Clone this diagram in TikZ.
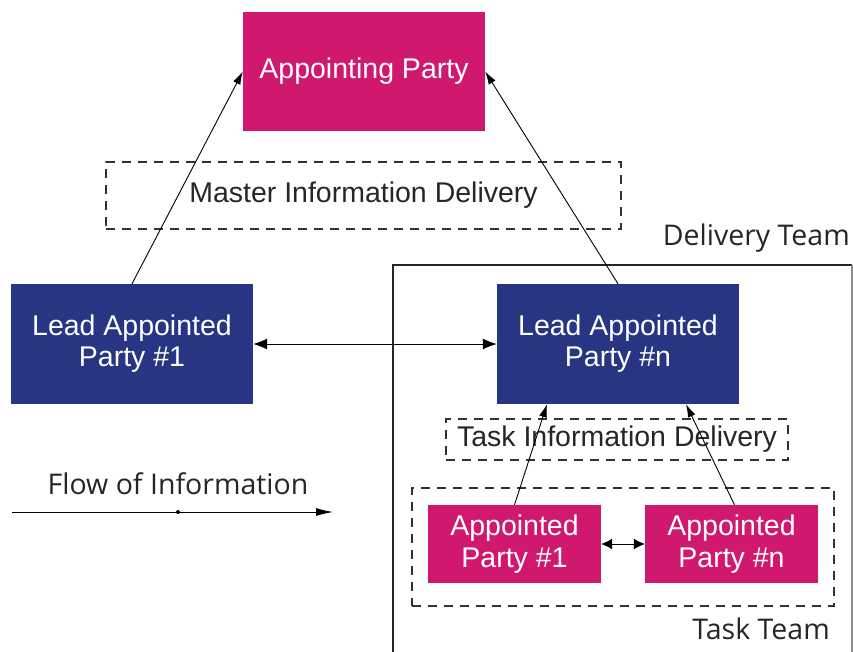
\documentclass[tikz,border=0pt]{standalone}
\usepackage{fontspec}
\setmainfont{Liberation Sans}
\newfontfamily\labelfont{Open Sans}
\usetikzlibrary{arrows.meta}
\definecolor{partymagenta}{HTML}{D0196E}
\definecolor{partynavy}{HTML}{283583}
\tikzset{
 party/.style={shape=rectangle,fill=partymagenta,text=white,align=center,inner sep=0pt,font=\fontsize{28.5}{32}\selectfont},
 lead/.style={shape=rectangle,fill=partynavy,text=white,align=center,inner sep=0pt,minimum width=242pt,minimum height=120pt,font=\fontsize{28.5}{31}\selectfont},
 delivery/.style={shape=rectangle,draw=black!80,line width=1.8pt,dash pattern=on 9pt off 7pt,inner sep=0pt,text=black!85,font=\fontsize{28.5}{32}\selectfont},
 teamlabel/.style={anchor=east,inner sep=0pt,text=black!85,font=\labelfont\fontsize{28.5}{32}\selectfont},
 flow/.style={line width=0.9pt,-{Latex[length=13pt,width=8pt]}},
}
\begin{document}
\begin{tikzpicture}[x=1pt,y=-1pt]
 \useasboundingbox (0,0) rectangle (853,651);
 % delivery team frame
 \draw[line width=1.8pt,black!85] (393,668) -- (393,265) -- (852,265);
 \draw[line width=1.2pt,black!45] (852,265) -- (852,668);
 \node (lbl delivery) at (850,238) [teamlabel] {Delivery Team};
 \node (lbl task) at (830,629) [teamlabel] {Task Team};
 % dashed areas
 \node (master) at (363.5,195.5) [delivery,minimum width=515pt,minimum height=67pt] {Master Information Delivery};
 \node (taskinfo) at (617,439.5) [delivery,minimum width=342pt,minimum height=41pt] {Task Information Delivery};
 \node (taskteam) at (623,547) [delivery,minimum width=422pt,minimum height=118pt] {};
 % parties
 \node (appointing) at (364,71.5) [party,minimum width=242pt,minimum height=119pt] {Appointing Party};
 \node (lead 1) at (132,344) [lead] {Lead Appointed\\Party \#1};
 \node (lead n) at (618,344) [lead] {Lead Appointed\\Party \#n};
 \node (party 1) at (514.5,544) [party,minimum width=173pt,minimum height=78pt] {Appointed\\Party \#1};
 \node (party n) at (731.5,544) [party,minimum width=173pt,minimum height=78pt] {Appointed\\Party \#n};
 % flows
 \draw[flow] (lead 1.north) -- (appointing.west);
 \draw[flow] (lead n.north) -- (appointing.east);
 \draw[flow] (party 1.north) -- ([xshift=-71pt]lead n.south);
 \draw[flow] ([xshift=3pt]party n.north) -- ([xshift=68pt]lead n.south);
 \draw[line width=1pt,{Latex[length=14pt,width=11pt]}-{Latex[length=14pt,width=11pt]}] (lead 1.east) -- (lead n.west);
 \draw[line width=1pt,{Latex[length=11pt,width=11pt]}-{Latex[length=11pt,width=11pt]}] (party 1.east) -- (party n.west);
 % legend
 \node (lbl flow) at (178,484) [inner sep=0pt,text=black!85,font=\labelfont\fontsize{28.5}{32}\selectfont] {Flow of Information};
 \coordinate (flow start) at (12,512);
 \coordinate (flow end) at (333,512);
 \draw[line width=0.9pt,-{Latex[length=17pt,width=8pt]}] (flow start) -- (flow end);
 \fill (178,512) circle (2pt);
\end{tikzpicture}
\end{document}
